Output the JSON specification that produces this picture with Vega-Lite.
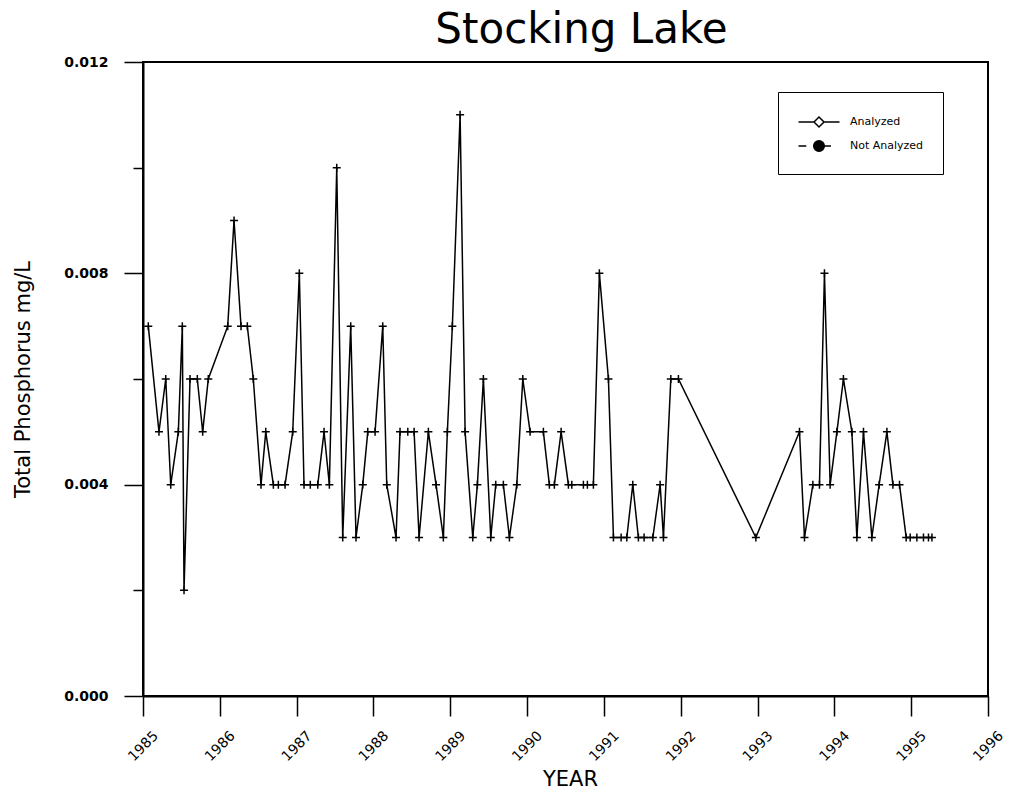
{
  "$schema": "https://vega.github.io/schema/vega-lite/v6.json",
  "width": 845,
  "height": 634,
  "autosize": {"type": "none"},
  "padding": {"left": 143, "top": 62, "right": 24, "bottom": 97},
  "background": "white",
  "title": {
    "text": "Stocking Lake",
    "font": "DejaVu Sans",
    "fontSize": 42,
    "fontWeight": "normal",
    "color": "black",
    "anchor": "middle",
    "dx": 16,
    "dy": 52,
    "baseline": "alphabetic",
    "offset": 22
  },
  "config": {
    "view": {"stroke": "black", "strokeWidth": 2},
    "axis": {
      "domainColor": "black",
      "domainWidth": 2,
      "tickColor": "black",
      "tickWidth": 1.5,
      "grid": false,
      "labelColor": "black",
      "titleColor": "black"
    }
  },
  "data": {
    "values": [
      {"year": 1985.069, "tp": 0.007, "status": "Analyzed"},
      {"year": 1985.208, "tp": 0.005, "status": "Analyzed"},
      {"year": 1985.296, "tp": 0.006, "status": "Analyzed"},
      {"year": 1985.361, "tp": 0.004, "status": "Analyzed"},
      {"year": 1985.460, "tp": 0.005, "status": "Analyzed"},
      {"year": 1985.512, "tp": 0.007, "status": "Analyzed"},
      {"year": 1985.534, "tp": 0.002, "status": "Analyzed"},
      {"year": 1985.612, "tp": 0.006, "status": "Analyzed"},
      {"year": 1985.707, "tp": 0.006, "status": "Analyzed"},
      {"year": 1985.777, "tp": 0.005, "status": "Analyzed"},
      {"year": 1985.850, "tp": 0.006, "status": "Analyzed"},
      {"year": 1986.103, "tp": 0.007, "status": "Analyzed"},
      {"year": 1986.185, "tp": 0.009, "status": "Analyzed"},
      {"year": 1986.276, "tp": 0.007, "status": "Analyzed"},
      {"year": 1986.358, "tp": 0.007, "status": "Analyzed"},
      {"year": 1986.436, "tp": 0.006, "status": "Analyzed"},
      {"year": 1986.536, "tp": 0.004, "status": "Analyzed"},
      {"year": 1986.598, "tp": 0.005, "status": "Analyzed"},
      {"year": 1986.697, "tp": 0.004, "status": "Analyzed"},
      {"year": 1986.762, "tp": 0.004, "status": "Analyzed"},
      {"year": 1986.849, "tp": 0.004, "status": "Analyzed"},
      {"year": 1986.949, "tp": 0.005, "status": "Analyzed"},
      {"year": 1987.035, "tp": 0.008, "status": "Analyzed"},
      {"year": 1987.096, "tp": 0.004, "status": "Analyzed"},
      {"year": 1987.178, "tp": 0.004, "status": "Analyzed"},
      {"year": 1987.275, "tp": 0.004, "status": "Analyzed"},
      {"year": 1987.357, "tp": 0.005, "status": "Analyzed"},
      {"year": 1987.426, "tp": 0.004, "status": "Analyzed"},
      {"year": 1987.522, "tp": 0.010, "status": "Analyzed"},
      {"year": 1987.600, "tp": 0.003, "status": "Analyzed"},
      {"year": 1987.704, "tp": 0.007, "status": "Analyzed"},
      {"year": 1987.773, "tp": 0.003, "status": "Analyzed"},
      {"year": 1987.861, "tp": 0.004, "status": "Analyzed"},
      {"year": 1987.926, "tp": 0.005, "status": "Analyzed"},
      {"year": 1988.021, "tp": 0.005, "status": "Analyzed"},
      {"year": 1988.121, "tp": 0.007, "status": "Analyzed"},
      {"year": 1988.173, "tp": 0.004, "status": "Analyzed"},
      {"year": 1988.294, "tp": 0.003, "status": "Analyzed"},
      {"year": 1988.346, "tp": 0.005, "status": "Analyzed"},
      {"year": 1988.447, "tp": 0.005, "status": "Analyzed"},
      {"year": 1988.529, "tp": 0.005, "status": "Analyzed"},
      {"year": 1988.594, "tp": 0.003, "status": "Analyzed"},
      {"year": 1988.715, "tp": 0.005, "status": "Analyzed"},
      {"year": 1988.815, "tp": 0.004, "status": "Analyzed"},
      {"year": 1988.910, "tp": 0.003, "status": "Analyzed"},
      {"year": 1988.962, "tp": 0.005, "status": "Analyzed"},
      {"year": 1989.027, "tp": 0.007, "status": "Analyzed"},
      {"year": 1989.128, "tp": 0.011, "status": "Analyzed"},
      {"year": 1989.193, "tp": 0.005, "status": "Analyzed"},
      {"year": 1989.293, "tp": 0.003, "status": "Analyzed"},
      {"year": 1989.353, "tp": 0.004, "status": "Analyzed"},
      {"year": 1989.431, "tp": 0.006, "status": "Analyzed"},
      {"year": 1989.527, "tp": 0.003, "status": "Analyzed"},
      {"year": 1989.592, "tp": 0.004, "status": "Analyzed"},
      {"year": 1989.691, "tp": 0.004, "status": "Analyzed"},
      {"year": 1989.770, "tp": 0.003, "status": "Analyzed"},
      {"year": 1989.866, "tp": 0.004, "status": "Analyzed"},
      {"year": 1989.944, "tp": 0.006, "status": "Analyzed"},
      {"year": 1990.039, "tp": 0.005, "status": "Analyzed"},
      {"year": 1990.212, "tp": 0.005, "status": "Analyzed"},
      {"year": 1990.290, "tp": 0.004, "status": "Analyzed"},
      {"year": 1990.355, "tp": 0.004, "status": "Analyzed"},
      {"year": 1990.443, "tp": 0.005, "status": "Analyzed"},
      {"year": 1990.538, "tp": 0.004, "status": "Analyzed"},
      {"year": 1990.582, "tp": 0.004, "status": "Analyzed"},
      {"year": 1990.733, "tp": 0.004, "status": "Analyzed"},
      {"year": 1990.785, "tp": 0.004, "status": "Analyzed"},
      {"year": 1990.863, "tp": 0.004, "status": "Analyzed"},
      {"year": 1990.941, "tp": 0.008, "status": "Analyzed"},
      {"year": 1991.059, "tp": 0.006, "status": "Analyzed"},
      {"year": 1991.124, "tp": 0.003, "status": "Analyzed"},
      {"year": 1991.224, "tp": 0.003, "status": "Analyzed"},
      {"year": 1991.298, "tp": 0.003, "status": "Analyzed"},
      {"year": 1991.376, "tp": 0.004, "status": "Analyzed"},
      {"year": 1991.449, "tp": 0.003, "status": "Analyzed"},
      {"year": 1991.523, "tp": 0.003, "status": "Analyzed"},
      {"year": 1991.637, "tp": 0.003, "status": "Analyzed"},
      {"year": 1991.732, "tp": 0.004, "status": "Analyzed"},
      {"year": 1991.775, "tp": 0.003, "status": "Analyzed"},
      {"year": 1991.871, "tp": 0.006, "status": "Analyzed"},
      {"year": 1991.970, "tp": 0.006, "status": "Analyzed"},
      {"year": 1992.978, "tp": 0.003, "status": "Analyzed"},
      {"year": 1993.546, "tp": 0.005, "status": "Analyzed"},
      {"year": 1993.611, "tp": 0.003, "status": "Analyzed"},
      {"year": 1993.720, "tp": 0.004, "status": "Analyzed"},
      {"year": 1993.806, "tp": 0.004, "status": "Analyzed"},
      {"year": 1993.871, "tp": 0.008, "status": "Analyzed"},
      {"year": 1993.945, "tp": 0.004, "status": "Analyzed"},
      {"year": 1994.033, "tp": 0.005, "status": "Analyzed"},
      {"year": 1994.118, "tp": 0.006, "status": "Analyzed"},
      {"year": 1994.228, "tp": 0.005, "status": "Analyzed"},
      {"year": 1994.293, "tp": 0.003, "status": "Analyzed"},
      {"year": 1994.379, "tp": 0.005, "status": "Analyzed"},
      {"year": 1994.488, "tp": 0.003, "status": "Analyzed"},
      {"year": 1994.583, "tp": 0.004, "status": "Analyzed"},
      {"year": 1994.684, "tp": 0.005, "status": "Analyzed"},
      {"year": 1994.762, "tp": 0.004, "status": "Analyzed"},
      {"year": 1994.848, "tp": 0.004, "status": "Analyzed"},
      {"year": 1994.935, "tp": 0.003, "status": "Analyzed"},
      {"year": 1994.987, "tp": 0.003, "status": "Analyzed"},
      {"year": 1995.074, "tp": 0.003, "status": "Analyzed"},
      {"year": 1995.160, "tp": 0.003, "status": "Analyzed"},
      {"year": 1995.225, "tp": 0.003, "status": "Analyzed"},
      {"year": 1995.270, "tp": 0.003, "status": "Analyzed"}
    ]
  },
  "encoding": {
    "x": {
      "field": "year",
      "type": "quantitative",
      "scale": {"domain": [1985, 1996], "nice": false, "zero": false},
      "axis": {
        "title": "YEAR",
        "values": [1985, 1986, 1987, 1988, 1989, 1990, 1991, 1992, 1993, 1994, 1995, 1996],
        "format": "d",
        "tickSize": 20,
        "labelAngle": -45,
        "labelAlign": "center",
        "labelBaseline": "middle",
        "labelPadding": 30,
        "labelFont": "DejaVu Sans",
        "labelFontSize": 14,
        "labelBound": false,
        "labelOverlap": false,
        "titleFont": "DejaVu Sans",
        "titleFontSize": 21,
        "titleFontWeight": "normal",
        "titleX": 427,
        "titleY": 83,
        "titleAlign": "center",
        "titleBaseline": "middle"
      }
    },
    "y": {
      "field": "tp",
      "type": "quantitative",
      "scale": {"domain": [0, 0.012], "nice": false},
      "axis": {
        "title": "Total Phosphorus mg/L",
        "values": [0, 0.002, 0.004, 0.006, 0.008, 0.01, 0.012],
        "labelExpr": "round(datum.value * 1000) % 4 === 0 ? format(datum.value, '.3f') : ''",
        "tickSize": {"condition": {"test": "round(datum.value * 1000) % 4 === 0", "value": 19}, "value": 10},
        "labelPadding": 16,
        "labelFont": "DejaVu Sans",
        "labelFontWeight": "bold",
        "labelFontSize": 14,
        "labelBound": false,
        "labelOverlap": false,
        "titleFont": "DejaVu Sans",
        "titleFontSize": 21,
        "titleFontWeight": "normal",
        "titleAngle": -90,
        "titleX": -120,
        "titleY": 317,
        "titleAlign": "center",
        "titleBaseline": "middle"
      }
    }
  },
  "layer": [
    {
      "mark": {"type": "line", "color": "black", "strokeWidth": 1.5}
    },
    {
      "mark": {
        "type": "point",
        "shape": "M-1,0H1M0,-1V1",
        "size": 64,
        "filled": false,
        "stroke": "black",
        "strokeWidth": 1.5,
        "opacity": 1
      }
    },
    {
      "mark": {"type": "point", "filled": true, "opacity": 0, "size": 400, "stroke": "black"},
      "encoding": {
        "shape": {
          "field": "status",
          "type": "nominal",
          "scale": {
            "domain": ["Analyzed", "Not Analyzed"],
            "range": [
              "M-2.05,0H-0.5M0.5,0H2.05M0,-0.5L0.5,0L0,0.5L-0.5,0Z",
              "M-2.05,0H-1.27M0.53,0H1.2M0,-0.53A0.53,0.53,0,1,1,0,0.53A0.53,0.53,0,1,1,0,-0.53Z"
            ]
          },
          "legend": {
            "title": null,
            "orient": "none",
            "legendX": 635,
            "legendY": 30,
            "padding": 19,
            "strokeColor": "black",
            "fillColor": "white",
            "symbolSize": 400,
            "symbolOffset": 11,
            "labelFont": "DejaVu Sans",
            "labelFontSize": 11,
            "labelColor": "black",
            "labelOffset": 20,
            "rowPadding": 5,
            "symbolOpacity": 1,
            "encode": {
              "legend": {"update": {"strokeWidth": {"value": 2}}},
              "symbols": {"update": {"stroke": {"value": "black"}, "strokeWidth": {"value": 1.5}, "opacity": {"value": 1}}}
            }
          }
        },
        "fill": {
          "field": "status",
          "type": "nominal",
          "scale": {"domain": ["Analyzed", "Not Analyzed"], "range": ["white", "black"]},
          "legend": {
            "title": null,
            "orient": "none",
            "legendX": 635,
            "legendY": 30
          }
        }
      }
    }
  ]
}
